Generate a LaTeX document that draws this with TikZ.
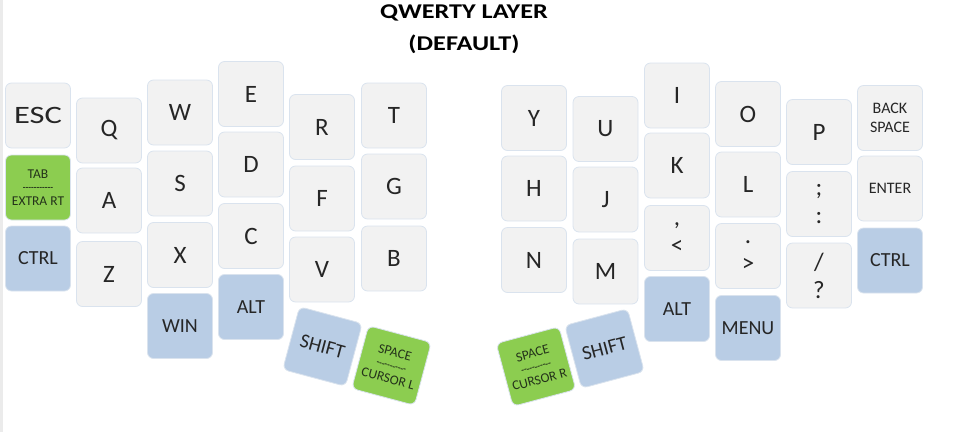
\documentclass[tikz,border=0pt]{standalone}
\usepackage{fontspec}
\usepackage{graphicx}
\setmainfont{Carlito}
\definecolor{keygrey}{HTML}{F2F2F2}
\definecolor{keyblue}{HTML}{B9CDE5}
\definecolor{keygreen}{HTML}{8CCD50}
\definecolor{keyedge}{HTML}{DAE3EE}
\definecolor{keytext}{HTML}{262626}
\definecolor{greentext}{HTML}{24331A}
\definecolor{edgestrip}{HTML}{EBEBEB}
\newcommand{\sepdash}{{\fontsize{9}{9}\selectfont\bfseries -{}-{}-{}-{}-{}-{}-{}-{}-{}-{}-}}
\tikzset{
  key/.style={draw=keyedge, line width=0.8pt, fill=keygrey, rounded corners=6pt,
    minimum width=65pt, minimum height=65pt, inner sep=0pt, align=center,
    text=keytext, font=\fontsize{25}{28}\selectfont},
  smallkey/.style={key, font=\fontsize{16}{19}\selectfont},
  modkey/.style={key, fill=keyblue, font=\fontsize{20}{24}\selectfont},
  layerkey/.style={key, fill=keygreen, text=greentext, font=\fontsize{13.5}{15.5}\selectfont},
  titletext/.style={anchor=base, inner sep=0pt, text=black, font=\fontsize{21}{24}\selectfont\bfseries}
}
\begin{document}
\begin{tikzpicture}[x=1pt,y=-1pt]
\useasboundingbox (0,0) rectangle (975,432);
\fill[edgestrip] (0,0) rectangle (3,432);
% title
\node[titletext] (title1) at (464,18.5) {\scalebox{1.25}[1]{QWERTY LAYER}};
\node[titletext] (title2) at (464,50.5) {\scalebox{1.25}[1]{(DEFAULT)}};
% left half
\node[key] (esc) at (38,115.5) {\scalebox{1.3}[1]{ESC}};
\node[layerkey] (tab) at (38,187.5) {TAB\\[-3pt]\sepdash\\[-1pt]EXTRA RT};
\node[modkey] (ctrll) at (38,258.5) {CTRL};
\node[key] (q) at (109,130.5) {Q};
\node[key] (a) at (109,200.5) {A};
\node[key] (z) at (109,274) {Z};
\node[key] (w) at (180,112.5) {W};
\node[key] (s) at (180,183.5) {S};
\node[key] (x) at (180,255) {X};
\node[modkey] (win) at (180,326) {WIN};
\node[key] (e) at (251,94) {E};
\node[key] (d) at (251,164.5) {D};
\node[key] (c) at (251,236) {C};
\node[modkey] (altl) at (251,307) {ALT};
\node[key] (r) at (322,127) {R};
\node[key] (f) at (322,198.5) {F};
\node[key] (v) at (322,269.5) {V};
\node[key] (t) at (394,115.5) {T};
\node[key] (g) at (394,186.5) {G};
\node[key] (b) at (394,258.5) {B};
\node[modkey, rotate=-15] (shiftl) at (322.5,346.5) {SHIFT};
\node[layerkey, rotate=-15] (spacel) at (391.5,365.5) {SPACE\\[-3pt]\sepdash\\[-1pt]CURSOR L};
% right half
\node[key] (y) at (534,118) {Y};
\node[key] (h) at (534,188.5) {H};
\node[key] (n) at (534,260) {N};
\node[key] (u) at (605.5,129) {U};
\node[key] (j) at (605.5,199.5) {J};
\node[key] (m) at (605.5,271.5) {M};
\node[key] (i) at (677,95.5) {I};
\node[key] (k) at (677,165.5) {K};
\node[key] (comma) at (677,238) {,\\<};
\node[modkey] (altr) at (677,309) {ALT};
\node[key] (o) at (748,114) {O};
\node[key] (l) at (748,184.5) {L};
\node[key] (period) at (748,256) {.\\>};
\node[modkey] (menu) at (748,328) {MENU};
\node[key] (p) at (819,132) {P};
\node[key] (semi) at (819,204) {;\\:};
\node[key] (slash) at (819,275.5) {/\\?};
\node[smallkey] (bksp) at (890,118) {BACK\\SPACE};
\node[smallkey] (enter) at (890,188.5) {ENTER};
\node[modkey] (ctrlr) at (890,260.5) {CTRL};
\node[layerkey, rotate=15] (spacer) at (536,366.5) {SPACE\\[-3pt]\sepdash\\[-1pt]CURSOR R};
\node[modkey, rotate=15] (shiftr) at (604.5,348.5) {SHIFT};
\end{tikzpicture}
\end{document}
